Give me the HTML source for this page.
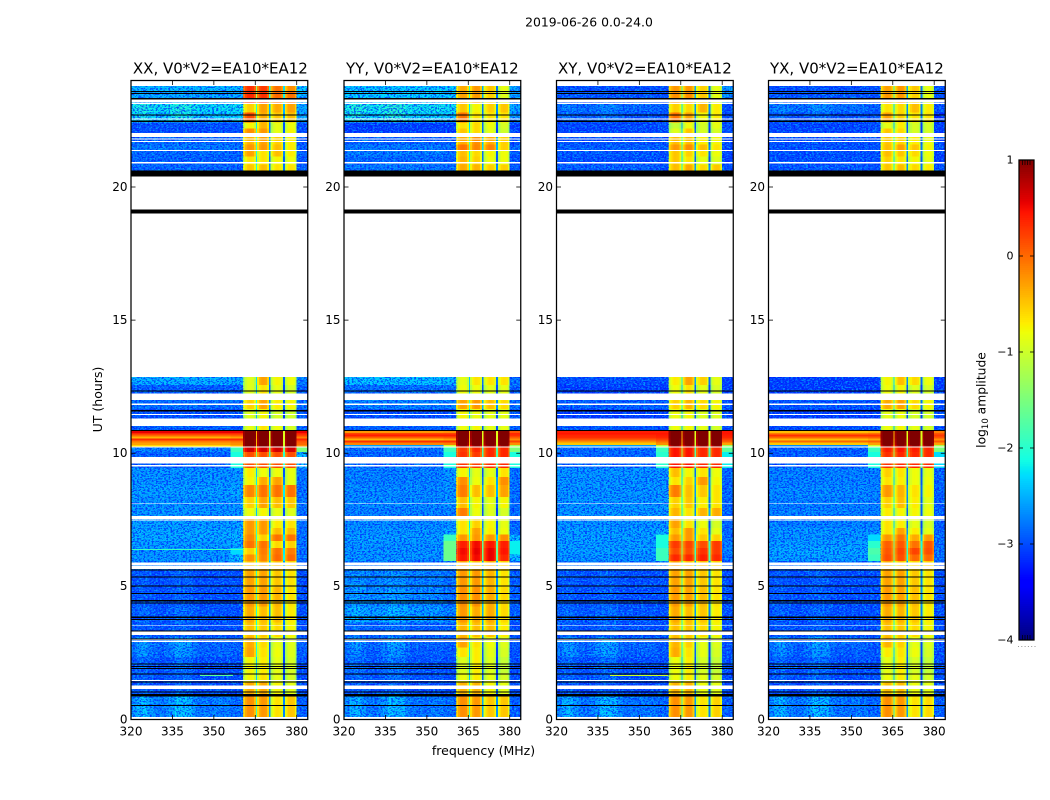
<!DOCTYPE html>
<html lang="en">
<head>
<meta charset="utf-8">
<title>2019-06-26 0.0-24.0</title>
<style>
html,body{margin:0;padding:0;background:#fff;}
#chart{display:block;width:1050px;height:800px;font-family:"DejaVu Sans","Liberation Sans",sans-serif;}
text{fill:#000;}
</style>
</head>
<body>
<svg id="chart" xmlns="http://www.w3.org/2000/svg" width="1050" height="800" viewBox="0 0 1050 800">
<defs>
<filter id="grainLight" x="0" y="0" width="100%" height="100%" color-interpolation-filters="sRGB">
<feTurbulence type="fractalNoise" baseFrequency="0.48 0.7" numOctaves="2" seed="4"/>
<feColorMatrix type="matrix" values="0 0 0 0 0  0 0 0 0 0.78  0 0 0 0 1  10 0 0 0 -5"/>
</filter>
<filter id="grainDark" x="0" y="0" width="100%" height="100%" color-interpolation-filters="sRGB">
<feTurbulence type="fractalNoise" baseFrequency="0.48 0.7" numOctaves="2" seed="11"/>
<feColorMatrix type="matrix" values="0 0 0 0 0  0 0 0 0 0.06  0 0 0 0 1  0 10 0 0 -5"/>
</filter>
</defs>
<text x="589" y="26.5" font-size="12.4" text-anchor="middle">2019-06-26 0.0-24.0</text>
<text x="483.5" y="755" font-size="12.5" text-anchor="middle">frequency (MHz)</text>
<text transform="translate(102,399.5) rotate(-90)" font-size="12.5" text-anchor="middle">UT (hours)</text>
<text transform="translate(985.5,400) rotate(-90)" font-size="12.3" text-anchor="middle">log<tspan font-size="8.5" dy="2.5">10</tspan><tspan dy="-2.5"> amplitude</tspan></text>
<g id="panels"></g>
<g id="colorbar"></g>
</svg>
<script>
// ---------- data: hours, frequencies, ticks ----------
const polarizations = ['XX', 'YY', 'XY', 'YX'];
const baselineLabel = 'V0*V2=EA10*EA12';
const freqTicks = [320, 335, 350, 365, 380];
const hourTicks = [0, 5, 10, 15, 20];
const colorTicks = [1, 0, -1, -2, -3, -4];
const rowTopHours = [23.79,23.56,23.12,22.80,22.42,22.20,21.88,21.60,21.39,21.15,20.85,12.86,12.56,12.00,11.66,11.02,10.85,10.77,10.70,10.62,10.55,10.47,10.40,10.31,10.23,10.05,9.45,9.10,8.80,8.35,7.95,7.55,7.20,6.95,6.70,6.45,6.20,5.95,5.60,4.95,4.25,3.65,3.10,2.70,2.35,1.75,1.40,0.95];
const rowBottomHours = [23.56,23.12,22.80,22.42,22.20,21.88,21.60,21.39,21.15,20.85,20.62,12.56,12.00,11.66,11.02,10.85,10.77,10.70,10.62,10.55,10.47,10.40,10.31,10.23,10.05,9.45,9.10,8.80,8.35,7.95,7.55,7.20,6.95,6.70,6.45,6.20,5.95,5.60,4.95,4.25,3.65,3.10,2.70,2.35,1.75,1.40,0.95,0.10];
const subbandRanges = [[360.6,365.2],[365.7,369.9],[370.6,375.1],[375.7,380]];
const subbandShape = [-0.32,-0.08,0.03,0.06,0.05,0.02,-0.22];
const subbandGapDrop = [1.6,2.1,2.1];
const lowBandShape = [0.1,0.28,0.35,0.15,0.02,-0.05,0.05,0.2,0.42,0.35,0.32,0.08,-0.05,0,-0.05,0,0,0];
const lowBandStreakWeight = [0,0,0.4,0.5,0,0,0,0,0,0,0,0,0,0,0,0,0,0,0,0,0,0,0,0,0,0,0,0,0,0,0,0,0,0,0,0,0,0,0.3,0.3,0.4,0.3,0.9,0.8,0.5,0.4,0.4,1];
const noDataHours = [[24,23.79],[23.29,23.18],[23.16,23.12],[22.58,22.53],[22.02,21.87],[21.83,21.78],[21.73,21.69],[21.39,21.35],[20.94,20.89],[20.62,12.86],[12.24,12.00],[11.87,11.82],[11.47,11.44],[11.31,11.03],[10.25,10.22],[9.85,9.62],[9.56,9.50],[8.12,8.09],[7.64,7.52],[7.49,7.47],[5.90,5.81],[5.79,5.66],[3.54,3.52],[3.30,3.17],[3.00,2.98],[2.96,2.91],[1.48,1.45],[1.27,1.15],[0.10,0]];
const flaggedHours = [[23.60,23.56],[23.53,23.49],[23.34,23.29],[22.72,22.68],[22.49,22.44],[20.62,20.40],[19.15,19.00],[12.35,12.31],[11.62,11.58],[11.56,11.54],[10.87,10.84],[5.63,5.60],[5.37,5.33],[5.03,4.99],[4.76,4.72],[4.48,4.44],[4.40,4.36],[3.86,3.82],[3.78,3.74],[3.35,3.31],[3.04,3.00],[2.10,2.06],[2.01,1.97],[1.94,1.90],[1.72,1.69],[1.43,1.39],[1.05,1.01],[0.95,0.86],[0.55,0.51]];
const rfiPolarizations = ['XX','XX','XY'];
const rfiStartMHz = [320,345,339.4];
const rfiEndMHz = [360.6,357,360.4];
const rfiHours = [6.40,1.67,1.67];
const rfiLevels = [-1.9,-1.7,-1.0];

// ---------- data: log10 amplitude per row [low, shoulder, s1, s2, s3, s4, edge] ----------
const xxLevels = [
[-2.4,-2.4,.25,.2,-.1,-.25,-2.3],[-2.5,-2.5,.3,.25,-.05,-.1,-2.4],[-2.2,-2.2,-.6,-.35,-.4,-.35,-2.5],[-2.3,-2.3,.1,-.4,-.55,-.5,-2.5],
[-3,-3,-.8,-.45,-.9,-.85,-3],[-3,-3,-.25,-.3,-.9,-.8,-3],[-2.85,-2.9,-.45,-.35,-.6,-.75,-3],[-2.75,-2.8,-.3,-.3,-.5,-.75,-2.9],
[-2.85,-2.9,-.35,-.7,-.5,-.75,-2.9],[-2.9,-2.9,-.7,-.7,-.8,-.85,-3],[-2.85,-2.9,-.55,-.5,-.7,-.7,-2.9],
[-2.45,-2.5,-.95,-.35,-.8,-.85,-2.7],[-2.9,-2.9,-.95,-.7,-.9,-1,-2.9],[-2.8,-2.8,-.6,-.35,-.75,-.8,-2.8],[-3,-3,-.95,-.8,-1,-1.05,-2.9],[-2.9,-2.9,-.9,-.7,-.85,-1,-2.9],
[.55,.55,1.2,1.2,1.2,1.2,.55],[.35,.35,1.2,1.2,1.2,1.2,.4],[0,.05,1.2,1.2,1.2,1.2,.2],[-.4,-.3,1.2,1.2,1.2,1.2,-.1],[.3,.3,1.15,1.15,1.15,1.15,.35],[-.1,-.05,1.15,1.15,1.15,1.15,.1],[-.3,-.2,1.15,1.15,1.15,1.15,0],[-.6,-.4,1.1,1.1,1.1,1.1,-.2],
[-2.7,-1.9,.6,.6,.6,.6,-1.5],[-2.9,-2.1,.1,.1,.1,.1,-2.4],
[-2.6,-2.6,-.75,-.85,-.85,-.9,-2.8],[-2.6,-2.6,-.8,-.4,-.35,-.9,-2.8],[-2.55,-2.5,-.2,-.1,-.1,-.1,-2.8],[-2.6,-2.6,-.6,-.35,-.5,-.55,-2.8],[-2.6,-2.6,-.85,-.8,-.9,-.95,-2.8],
[-2.55,-2.55,-.3,-.3,-.75,-.7,-2.8],[-2.5,-2.5,-.3,-.3,-.5,-.5,-2.8],[-2.5,-2.4,-.2,-.6,-.1,-.1,-2.8],[-2.55,-2.5,-.1,-.1,-.65,-.6,-2.8],[-2.6,-2.3,-.6,-.15,-.1,-.15,-2.8],[-2.6,-2.4,-.25,-.2,-.05,-.05,-2.8],[-2.7,-2.6,-.5,-.4,-.5,-.6,-2.9],
[-3,-3,-.35,-.35,-.55,-.7,-3],[-3,-3,-.3,-.3,-.45,-.7,-3],[-2.95,-3,-.4,-.5,-.5,-.75,-3],[-3,-3,-.5,-.55,-.65,-.8,-3],
[-2.85,-2.9,-.4,-.65,-.9,-.95,-2.9],[-2.85,-2.9,-.35,-.7,-.85,-.95,-2.9],[-3,-3,-.8,-.75,-.9,-1,-3],[-3,-3,-.8,-.7,-.9,-1,-3],[-3,-3,-.4,-.4,-.8,-.9,-3],[-2.7,-2.8,-.25,-.3,-.7,-.55,-2.9]
];
const yyLevels = [
[-2.3,-2.3,-.4,-.3,-.55,-.9,-2.5],[-2.3,-2.3,-.35,-.3,-.6,-.95,-2.5],[-2.15,-2.2,-.55,-.8,-.6,-.55,-2.5],[-2.25,-2.3,-.1,-.7,-.7,-.7,-2.6],
[-3.1,-3.1,-.7,-.65,-.85,-1,-3.1],[-3.1,-3.1,-.55,-.65,-.9,-1.05,-3.1],[-2.9,-2.9,-.4,-.25,-.4,-.6,-3],[-2.75,-2.8,-.1,-.2,-.2,-.6,-2.9],
[-2.75,-2.8,-.5,-.65,-.8,-.85,-2.9],[-2.85,-2.9,-.45,-.6,-.85,-.85,-3],[-2.75,-2.8,-.4,-.45,-.6,-.6,-2.9],
[-2.35,-2.4,-.9,-.7,-.7,-.7,-2.8],[-2.8,-2.8,-.85,-.85,-.9,-.9,-2.9],[-2.7,-2.7,-.35,-.3,-.5,-.65,-2.8],[-3,-3,-.8,-.85,-.9,-.9,-2.9],[-2.9,-2.9,-.85,-.8,-.9,-.9,-2.9],
[-.25,-.2,1.2,1.2,1.2,1.2,.1],[.2,.2,1.2,1.2,1.2,1.2,.35],[.4,.4,1.2,1.2,1.2,1.2,.3],[.05,.1,1.2,1.2,1.2,1.2,.05],[-.4,-.3,1.15,1.15,1.15,1.15,-.2],[.3,.3,1.15,1.15,1.15,1.15,.2],[-.15,-.1,1.1,1.1,1.1,1.1,-.2],[-2.6,-1,.9,.9,.9,.9,-1.2],
[-2.8,-1.9,.2,.3,.3,.3,-1.5],[-2.85,-2.1,.25,.2,.3,.3,-2.1],
[-2.7,-2.6,-.8,-.9,-.9,-.7,-2.8],[-2.7,-2.6,-.25,-.85,-.7,-.25,-2.8],[-2.65,-2.6,-.15,-.5,-.5,-.35,-2.8],[-2.65,-2.6,-.5,-.8,-.9,-.8,-2.85],[-2.7,-2.7,-.15,-.85,-.95,-1,-2.85],
[-2.65,-2.6,-.7,-.6,-.8,-.9,-2.85],[-2.6,-2.5,-.7,-.35,-.75,-.85,-2.8],[-2.55,-1.9,-.3,-.3,-.3,-.25,-2.4],[-2.6,-1.6,.35,.45,.4,.35,-2.2],[-2.6,-1.6,.45,.5,.5,.4,-2.2],[-2.6,-1.6,.4,.45,.5,.3,-2.4],[-2.8,-2.7,-.35,-.5,-.4,-.6,-2.9],
[-2.7,-2.8,-.3,-.3,-.45,-.7,-2.9],[-2.65,-2.8,-.25,-.25,-.4,-.65,-2.9],[-2.55,-2.7,-.3,-.4,-.4,-.65,-2.9],[-2.9,-2.9,-.45,-.5,-.5,-.75,-3],
[-2.85,-2.9,-.35,-.7,-.85,-.95,-2.9],[-2.9,-2.95,-.7,-.75,-.9,-1,-3],[-2.95,-3,-.95,-.75,-.95,-1.1,-3],[-2.95,-3,-.85,-.75,-.9,-1,-3],[-3,-3,-.45,-.45,-.8,-.9,-3],[-2.75,-2.8,-.25,-.3,-.55,-.55,-2.9]
];
const xyLevels = [
[-3,-3,-.3,-.3,-.6,-.9,-2.6],[-2.95,-3,-.25,-.25,-.55,-.9,-2.6],[-2.85,-2.9,-.6,-.65,-.45,-.75,-3],[-2.95,-3,-.1,-.35,-.8,-.75,-3],
[-3.05,-3,-1.1,-.85,-1,-.9,-3],[-3.05,-3,-.95,-.55,-1,-1,-3],[-3,-3,-.5,-.5,-.75,-.8,-3],[-2.9,-2.9,-.3,-.25,-.5,-.7,-3],
[-2.95,-3,-.55,-.6,-.7,-.85,-3],[-3,-3,-.55,-.7,-.9,-.95,-3.1],[-2.9,-3,-.5,-.4,-.65,-.55,-3],
[-3,-3,-.75,-.35,-.6,-.9,-3.1],[-3.1,-3.1,-.85,-.7,-.9,-1,-3.1],[-2.9,-2.9,-.6,-.45,-.65,-.8,-3],[-3.1,-3.1,-.85,-.8,-.95,-.95,-3],[-2.95,-3,-.85,-.8,-.9,-1,-3],
[.4,.4,1.2,1.2,1.2,1.2,.45],[.45,.45,1.2,1.2,1.2,1.2,.45],[.35,.4,1.2,1.2,1.2,1.2,.4],[.3,.35,1.2,1.2,1.2,1.2,.35],[.1,.2,1.15,1.15,1.15,1.15,.2],[-.2,0,1.15,1.15,1.15,1.15,.05],[-.5,-.2,1.1,1.1,1.1,1.1,-.3],[-2.6,-1.1,.9,.9,.9,.9,-1.3],
[-2.85,-1.9,.4,.4,.3,.3,-1.7],[-2.85,-2,.4,.4,.3,.3,-2.2],
[-2.6,-2.6,-.5,-.8,-.7,-.85,-2.85],[-2.6,-2.6,-.7,-.6,-.3,-.8,-2.85],[-2.6,-2.6,-.15,-.5,-.55,-.7,-2.85],[-2.6,-2.6,-.6,-.55,-.75,-.7,-2.85],[-2.6,-2.6,-.45,-.7,-.45,-.4,-2.85],
[-2.6,-2.6,-.35,-.7,-.85,-1,-2.85],[-2.55,-2.5,-.5,-.3,-.7,-.9,-2.85],[-2.55,-2.1,-.3,-.3,-.55,-.6,-2.8],[-2.55,-2.1,.2,.15,.1,.2,-2.7],[-2.55,-1.9,.1,.1,.25,.2,-2.7],[-2.6,-1.9,.3,.3,.35,.3,-2.8],[-2.8,-2.7,-.3,-.5,-.5,-.6,-3],
[-3,-3,-.35,-.35,-.55,-.7,-3],[-3,-3,-.3,-.35,-.5,-.7,-3],[-2.95,-3,-.4,-.5,-.55,-.75,-3],[-3,-3,-.5,-.55,-.65,-.8,-3],
[-2.85,-2.95,-.45,-.6,-.9,-.95,-3],[-2.85,-2.95,-.4,-.7,-.9,-1,-3],[-3,-3,-.85,-.75,-1,-1.1,-3],[-3,-3,-.85,-.75,-.9,-1,-3],[-3.05,-3,-.45,-.45,-.85,-.9,-3],[-2.75,-2.85,-.25,-.3,-.7,-.6,-2.9]
];
const yxLevels = [
[-3,-3,-.35,-.3,-.55,-.9,-3],[-2.95,-3,-.3,-.3,-.6,-.9,-3],[-2.8,-2.9,-.7,-.65,-.5,-.75,-3],[-3,-3,-.35,-.6,-.7,-.7,-3.2],
[-3.05,-3,-.9,-.75,-1,-1,-3.1],[-3.05,-3,-.55,-.65,-1,-1,-3.1],[-3,-3,-.55,-.6,-.75,-.85,-3],[-3,-3,-.5,-.35,-.55,-.8,-3],
[-3,-3,-.5,-.55,-.65,-.85,-3.1],[-3,-3,-.6,-.7,-.8,-.9,-3.1],[-2.95,-3,-.55,-.5,-.65,-.75,-3],
[-3.1,-3.1,-.8,-.5,-.65,-.85,-3.1],[-3.1,-3.1,-.85,-.8,-.95,-1,-3.1],[-2.95,-3,-.4,-.35,-.65,-.8,-3],[-3.1,-3.1,-.9,-.85,-1,-1,-3],[-3,-3,-.85,-.8,-.9,-1,-3],
[-.45,-.4,1.2,1.2,1.2,1.2,-.1],[-.1,-.05,1.2,1.2,1.2,1.2,.1],[.3,.3,1.2,1.2,1.2,1.2,.25],[0,.05,1.2,1.2,1.2,1.2,.1],[-.45,-.35,1.15,1.15,1.15,1.15,-.2],[0,.05,1.15,1.15,1.15,1.15,.1],[-.5,-.3,1.1,1.1,1.1,1.1,-.3],[-2.7,-1,.9,.9,.9,.9,-1.2],
[-2.9,-1.9,.35,.4,.35,.3,-1.5],[-2.9,-2.1,.25,.3,.3,.3,-2.3],
[-2.7,-2.7,-.6,-.7,-.85,-.9,-2.9],[-2.7,-2.7,-.7,-.75,-.85,-.85,-2.9],[-2.65,-2.7,-.3,-.45,-.7,-.8,-2.9],[-2.7,-2.7,-.6,-.5,-.75,-.9,-2.9],[-2.7,-2.7,-.75,-.8,-.8,-.85,-2.9],
[-2.7,-2.7,-.7,-.75,-.9,-1,-2.9],[-2.6,-2.6,-.7,-.35,-.75,-.9,-2.9],[-2.6,-2.3,-.3,-.1,-.4,-.3,-2.8],[-2.55,-2,0,.05,-.1,.05,-2.8],[-2.5,-1.8,.05,.15,.15,.1,-2.8],[-2.55,-1.9,.1,.1,-.05,-.05,-2.8],[-2.8,-2.7,-.4,-.55,-.65,-.6,-3],
[-3,-3,-.35,-.35,-.55,-.7,-3],[-3,-3,-.3,-.35,-.5,-.7,-3],[-3,-3,-.4,-.45,-.55,-.75,-3],[-3,-3,-.5,-.55,-.65,-.8,-3],
[-2.85,-2.95,-.45,-.6,-.9,-.95,-3],[-2.9,-2.95,-.75,-.7,-.85,-1,-3],[-3,-3,-.9,-.75,-1,-1.1,-3],[-3,-3,-.85,-.75,-.9,-1,-3],[-3.05,-3,-.5,-.5,-.85,-.9,-3],[-2.75,-2.85,-.25,-.3,-.7,-.65,-2.9]
];

// ---------- layout and axis functions ----------
const levelsByPol = { XX: xxLevels, YY: yyLevels, XY: xyLevels, YX: yxLevels };
const panelLeft = { XX: 131, YY: 344, XY: 556.5, YX: 768.5 };
const panelWidth = 176.75;
const plotTop = 80.5, plotBottom = 719.5;
const MHZ_MIN = 320, MHZ_MAX = 384, HOUR_MAX = 24;
const LOW_START = 320, LOW_STEP = 2, SHOULDER_START = 356, SHOULDER_END = 360.6, EDGE_START = 380;
const BRIGHT_LEVEL = -2.35;
const CB_LEFT = 1019, CB_RIGHT = 1034, CB_TOP = 160, CB_BOTTOM = 640;
const SVGNS = 'http://www.w3.org/2000/svg';

function xScale(pol, mhz) { return panelLeft[pol] + (mhz - MHZ_MIN) / (MHZ_MAX - MHZ_MIN) * panelWidth; }
function yScale(hour) { return plotBottom - hour / HOUR_MAX * (plotBottom - plotTop); }
function cbScale(v) { return CB_BOTTOM - (v + 4) / 5 * (CB_BOTTOM - CB_TOP); }

function ramp(t, pts) {
  for (let i = 1; i < pts.length; i++) {
    if (t <= pts[i][0]) {
      const a = pts[i - 1], b = pts[i];
      return a[1] + (b[1] - a[1]) * (t - a[0]) / (b[0] - a[0]);
    }
  }
  return pts[pts.length - 1][1];
}
function jet(level) {
  const t = Math.max(0, Math.min(1, (level + 4) / 5));
  const r = ramp(t, [[0,0],[.35,0],[.66,1],[.89,1],[1,.5]]);
  const g = ramp(t, [[0,0],[.125,0],[.375,1],[.64,1],[.91,0],[1,0]]);
  const b = ramp(t, [[0,.5],[.11,1],[.34,1],[.65,0],[1,0]]);
  return 'rgb(' + Math.round(r * 255) + ',' + Math.round(g * 255) + ',' + Math.round(b * 255) + ')';
}
function makeRect(parent, x, y, w, h, fill) {
  const el = document.createElementNS(SVGNS, 'rect');
  el.setAttribute('x', x.toFixed(2));
  el.setAttribute('y', y.toFixed(2));
  el.setAttribute('width', w.toFixed(2));
  el.setAttribute('height', h.toFixed(2));
  el.setAttribute('fill', fill);
  parent.appendChild(el);
  return el;
}
function makeLine(parent, x1, y1, x2, y2, width) {
  const el = document.createElementNS(SVGNS, 'line');
  el.setAttribute('x1', x1);
  el.setAttribute('y1', y1);
  el.setAttribute('x2', x2);
  el.setAttribute('y2', y2);
  el.setAttribute('stroke', '#000');
  el.setAttribute('stroke-width', width);
  parent.appendChild(el);
  return el;
}
function makeText(parent, x, y, size, anchor, str) {
  const el = document.createElementNS(SVGNS, 'text');
  el.setAttribute('x', x);
  el.setAttribute('y', y);
  el.setAttribute('font-size', size);
  el.setAttribute('text-anchor', anchor);
  el.textContent = str;
  parent.appendChild(el);
  return el;
}
function addCell(parent, pol, startMHz, endMHz, topHour, bottomHour, level) {
  const x0 = xScale(pol, startMHz);
  const x1 = xScale(pol, endMHz);
  const y0 = yScale(topHour);
  const y1 = yScale(bottomHour);
  const el = makeRect(parent, x0, y0, x1 - x0, y1 - y0, jet(level));
  
  
}

// ---------- panels ----------
const panelsRoot = document.getElementById('panels');
polarizations.forEach(function (pol) {
  const levels = levelsByPol[pol];
  const left = panelLeft[pol];
  const right = left + panelWidth;

  const panel = document.createElementNS(SVGNS, 'g');
  
  
  panelsRoot.appendChild(panel);

  const heat = document.createElementNS(SVGNS, 'g');
  heat.setAttribute('shape-rendering', 'crispEdges');
  
  
  panel.appendChild(heat);

  levels.forEach(function (row, r) {
    const top = rowTopHours[r], bottom = rowBottomHours[r];
    const weight = lowBandStreakWeight[r];
    if (weight === 0) {
      addCell(heat, pol, LOW_START, SHOULDER_START, top, bottom, row[0]);
    } else {
      lowBandShape.forEach(function (offset, c) {
        const start = LOW_START + c * LOW_STEP;
        addCell(heat, pol, start, start + LOW_STEP, top, bottom, row[0] + offset * weight);
      });
    }
    addCell(heat, pol, SHOULDER_START, SHOULDER_END, top, bottom, row[1]);
    subbandRanges.forEach(function (range, s) {
      const step = (range[1] - range[0]) / subbandShape.length;
      subbandShape.forEach(function (offset, c) {
        addCell(heat, pol, range[0] + c * step, range[0] + (c + 1) * step, top, bottom, row[2 + s] + offset);
      });
      if (s < subbandRanges.length - 1) {
        const mean = (row[2 + s] + row[3 + s]) / 2;
        addCell(heat, pol, range[1], subbandRanges[s + 1][0], top, bottom, mean - subbandGapDrop[s]);
      }
    });
    addCell(heat, pol, EDGE_START, MHZ_MAX, top, bottom, row[6]);
  });

  // fine channel-to-channel grain over the quiet channels
  const grainBlocks = [[23.79, 10.85], [10.23, 0.1]];
  const grainBands = [[LOW_START, SHOULDER_END], [EDGE_START, MHZ_MAX]];
  grainBlocks.forEach(function (block) {
    const y0 = yScale(block[0]);
    const y1 = yScale(block[1]);
    grainBands.forEach(function (band) {
      const gx = xScale(pol, band[0]);
      const gw = xScale(pol, band[1]) - gx;
      const light = makeRect(panel, gx, y0, gw, y1 - y0, '#000');
      light.setAttribute('filter', 'url(#grainLight)');
      light.setAttribute('opacity', '0.55');
      
      
      const dark = makeRect(panel, gx, y0, gw, y1 - y0, '#000');
      dark.setAttribute('filter', 'url(#grainDark)');
      dark.setAttribute('opacity', '0.65');
      
      
    });
  });

  // bright shoulder and edge channels sit smoothly above the grain
  const smooth = document.createElementNS(SVGNS, 'g');
  smooth.setAttribute('shape-rendering', 'crispEdges');
  
  
  panel.appendChild(smooth);
  levels.forEach(function (row, r) {
    const top = rowTopHours[r], bottom = rowBottomHours[r];
    if (row[1] > BRIGHT_LEVEL && row[1] - row[0] > 0.2) addCell(smooth, pol, SHOULDER_START, SHOULDER_END, top, bottom, row[1]);
    if (row[6] > BRIGHT_LEVEL && row[6] - row[0] > 0.2) addCell(smooth, pol, EDGE_START, MHZ_MAX, top, bottom, row[6]);
  });

  const masks = document.createElementNS(SVGNS, 'g');
  masks.setAttribute('shape-rendering', 'crispEdges');
  
  
  panel.appendChild(masks);

  rfiPolarizations.forEach(function (rfiPol, i) {
    if (rfiPol !== pol) return;
    const x0 = xScale(pol, rfiStartMHz[i]);
    const x1 = xScale(pol, rfiEndMHz[i]);
    const el = makeRect(masks, x0, yScale(rfiHours[i]), x1 - x0, 1, jet(rfiLevels[i]));
    
    
  });
  noDataHours.forEach(function (pair) {
    const y0 = yScale(pair[0]);
    const y1 = yScale(pair[1]);
    const el = makeRect(masks, left, y0, panelWidth, y1 - y0, '#fff');
    
    
  });
  flaggedHours.forEach(function (pair) {
    const y0 = yScale(pair[0]);
    const y1 = yScale(pair[1]);
    const el = makeRect(masks, left, y0, panelWidth, y1 - y0, '#000');
    
    
  });

  // ticks, labels, frame
  freqTicks.forEach(function (f) {
    const x = xScale(pol, f);
    const t1 = makeLine(panel, x, plotBottom, x, plotBottom - 4.5, 0.8);
    
    
    const t2 = makeLine(panel, x, plotTop, x, plotTop + 4.5, 0.8);
    
    
    const lab = makeText(panel, x, 735.5, 12, 'middle', String(f));
    
    
  });
  hourTicks.forEach(function (h) {
    const y = yScale(h);
    const t1 = makeLine(panel, left, y, left + 4.5, y, 0.8);
    
    
    const t2 = makeLine(panel, right, y, right - 4.5, y, 0.8);
    
    
    const lab = makeText(panel, left - 3.5, y + 3.8, 12, 'end', String(h));
    
    
  });
  const frame = makeRect(panel, left, plotTop, panelWidth, plotBottom - plotTop, 'none');
  frame.setAttribute('stroke', '#000');
  frame.setAttribute('stroke-width', '1.25');
  
  
  const titleX = left + panelWidth / 2 + (pol === 'XX' ? 1 : 0);
  const title = makeText(panel, titleX, 73.5, 15, 'middle', pol + ', ' + baselineLabel);
  
  
});

// ---------- colorbar ----------
const cbRoot = document.getElementById('colorbar');
const cbSwatches = document.createElementNS(SVGNS, 'g');
cbSwatches.setAttribute('shape-rendering', 'crispEdges');


cbRoot.appendChild(cbSwatches);
for (let v = -4; v < 1; v += 0.02) {
  const y0 = cbScale(v + 0.02);
  const y1 = cbScale(v);
  const swatch = makeRect(cbSwatches, CB_LEFT, y0, CB_RIGHT - CB_LEFT, y1 - y0 + 0.5, jet(v));
  
  
}
colorTicks.forEach(function (v) {
  const y = cbScale(v);
  const left = makeLine(cbRoot, CB_LEFT, y, CB_LEFT + 4, y, 0.8);
  
  
  const right = makeLine(cbRoot, CB_RIGHT, y, CB_RIGHT - 4, y, 0.8);
  
  
  const str = v < 0 ? '\u2212' + Math.abs(v) : String(v);
  const lab = makeText(cbRoot, 1013.5, y + 3.5, 11, 'end', str);
  
  
});
[CB_LEFT + 3.5, CB_LEFT + 6, CB_LEFT + 8.5, CB_LEFT + 11].forEach(function (x) {
  const top = makeLine(cbRoot, x, CB_TOP, x, CB_TOP + 5, 0.7);
  
  
  const bottom = makeLine(cbRoot, x, CB_BOTTOM, x, CB_BOTTOM - 5, 0.7);
  
  
});
const cbFrame = makeRect(cbRoot, CB_LEFT, CB_TOP, CB_RIGHT - CB_LEFT, CB_BOTTOM - CB_TOP, 'none');
cbFrame.setAttribute('stroke', '#000');
cbFrame.setAttribute('stroke-width', '1.25');


for (let i = 0; i < 6; i++) {
  const dot = makeRect(cbRoot, 1018 + i * 3.3, 646, 1, 1, '#999');
  
  
}
</script>
</body>
</html>
